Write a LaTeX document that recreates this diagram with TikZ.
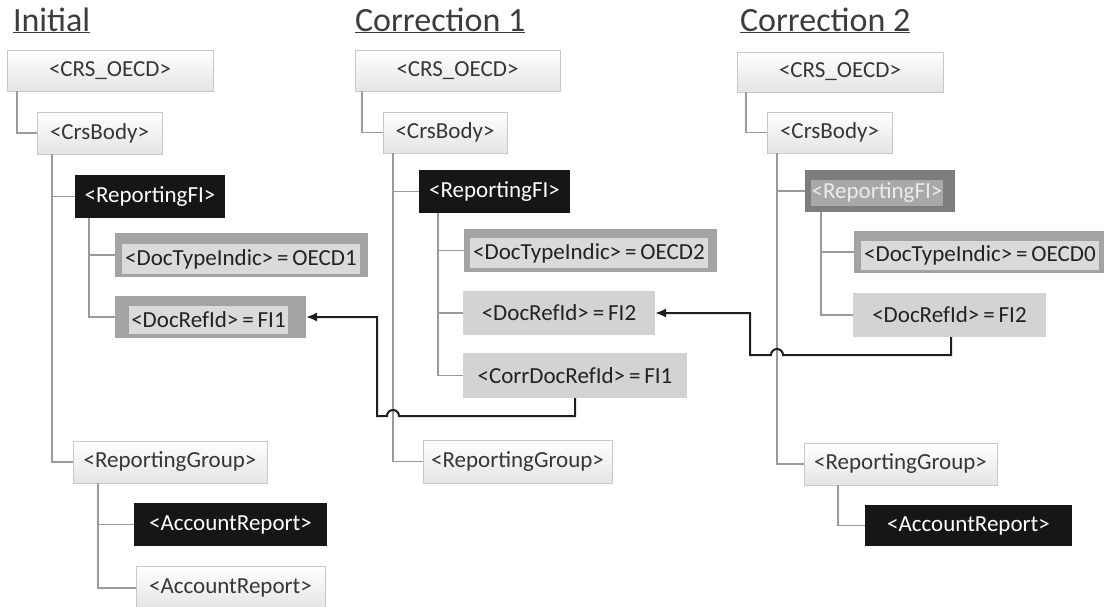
\documentclass[tikz,border=0pt]{standalone}
\usepackage{fontspec}
\setmainfont{Carlito}
\usetikzlibrary{calc,arrows.meta}
\definecolor{treeline}{HTML}{9A9A9A}
\definecolor{lbdraw}{HTML}{C8C8C8}
\definecolor{lbbot}{HTML}{E4E4E4}
\definecolor{lbtext}{HTML}{363636}
\definecolor{blk}{HTML}{161616}
\definecolor{dtout}{HTML}{A3A3A3}
\definecolor{dtin}{HTML}{DADADA}
\definecolor{plainfill}{HTML}{D3D3D3}
\definecolor{darktext}{HTML}{222222}
\definecolor{gfiout}{HTML}{7D7D7D}
\definecolor{gfiin}{HTML}{A8A8A8}
\definecolor{titlec}{HTML}{3C3C3C}
\definecolor{linkc}{HTML}{1E1E1E}
\newcommand\boxat[7]{\node[#1, minimum width={(#5-#3)*1pt}, minimum height={(#6-#4)*1pt}] (#2) at ({(#3+#5)/2},{(#4+#6)/2}) {#7};}
\newcommand\eq{\hspace{0.17em}=\hspace{0.17em}}
\begin{document}
\begin{tikzpicture}[x=1pt,y=-1pt,
  every node/.style={inner sep=0pt, outer sep=0pt, font=\fontsize{23}{27}\selectfont},
  lightbox/.style={draw=lbdraw, line width=0.8pt, top color=white, bottom color=lbbot, text=lbtext},
  blackbox/.style={fill=blk, text=white},
  dtouter/.style={fill=dtout},
  dtinner/.style={fill=dtin, text=darktext},
  plainbox/.style={fill=plainfill, text=darktext},
  gfouter/.style={fill=gfiout},
  gfinner/.style={fill=gfiin, text=white!92!black},
  titlenode/.style={font=\fontsize{34}{38}\selectfont, text=titlec, anchor=base west},
  tree/.style={draw=treeline, line width=1.7pt},
  link/.style={draw=linkc, line width=2pt},
  linkarrow/.style={link, -{Latex[length=11pt,width=9pt]}}
]
\useasboundingbox (0,0) rectangle (1104,606);

% ---------- titles ----------
\node[titlenode] (tA) at (13,31) {\underline{Initial}};
\node[titlenode] (tB) at (355,31) {\underline{Correction 1}};
\node[titlenode] (tC) at (740,31) {\underline{Correction 2}};

% ---------- Initial ----------
\boxat{lightbox}{crsA}{7}{50}{213}{91}{<CRS\_OECD>}
\boxat{lightbox}{bodyA}{37}{112}{162}{154}{<CrsBody>}
\boxat{blackbox}{rfiA}{75}{175}{225}{218}{<ReportingFI>}
\boxat{dtouter}{dtA}{115}{233}{368}{277}{}
\boxat{dtinner}{dtAt}{122}{244}{360}{274}{<DocTypeIndic>\eq OECD1}
\boxat{dtouter}{drA}{115}{296}{306}{338}{}
\boxat{dtinner}{drAt}{129}{306}{288}{334}{<DocRefId>\eq FI1}
\boxat{lightbox}{rgA}{73}{441}{267}{483}{<ReportingGroup>}
\boxat{blackbox}{arA1}{134}{503}{327}{546}{<AccountReport>}
\boxat{lightbox}{arA2}{136}{566}{325}{610}{<AccountReport>}

\draw[tree] ($(crsA.south west)+(10,0)$) |- (bodyA.west);
\draw[tree] ($(bodyA.south west)+(15,0)$) |- (rgA.west);
\draw[tree] ($(bodyA.south west)+(15,0)$) |- (rfiA.west);
\draw[tree] ($(rfiA.south west)+(14,0)$) |- (dtA.west);
\draw[tree] ($(rfiA.south west)+(14,0)$) |- (drA.west);
\draw[tree] ($(rgA.south west)+(25,0)$) |- (arA1.west);
\draw[tree] ($(rgA.south west)+(25,0)$) |- (arA2.west);

% ---------- Correction 1 ----------
\boxat{lightbox}{crsB}{355}{50}{560}{91}{<CRS\_OECD>}
\boxat{lightbox}{bodyB}{383}{112}{507}{153}{<CrsBody>}
\boxat{blackbox}{rfiB}{419}{170}{570}{213}{<ReportingFI>}
\boxat{dtouter}{dtB}{464}{229}{717}{272}{}
\boxat{dtinner}{dtBt}{470}{238}{708}{268}{<DocTypeIndic>\eq OECD2}
\boxat{plainbox}{drB}{463}{291}{655}{335}{<DocRefId>\eq FI2}
\boxat{plainbox}{cdrB}{463}{353}{687}{398}{<CorrDocRefId>\eq FI1}
\boxat{lightbox}{rgB}{423}{440}{612}{483}{<ReportingGroup>}

\draw[tree] ($(crsB.south west)+(7,0)$) |- (bodyB.west);
\draw[tree] ($(bodyB.south west)+(10,0)$) |- (rgB.west);
\draw[tree] ($(bodyB.south west)+(10,0)$) |- (rfiB.west);
\draw[tree] ($(rfiB.south west)+(19,0)$) |- (dtB.west);
\draw[tree] ($(rfiB.south west)+(19,0)$) |- (drB.west);
\draw[tree] ($(rfiB.south west)+(19,0)$) |- (cdrB.west);

% ---------- Correction 2 ----------
\boxat{lightbox}{crsC}{737}{52}{943}{92}{<CRS\_OECD>}
\boxat{lightbox}{bodyC}{767}{112}{892}{153}{<CrsBody>}
\boxat{gfouter}{rfiC}{805}{170}{955}{212}{}
\boxat{gfinner}{rfiCt}{811}{180}{943}{206}{<ReportingFI>}
\boxat{dtouter}{dtC}{854}{231}{1110}{273}{}
\boxat{dtinner}{dtCt}{861}{241}{1099}{270}{<DocTypeIndic>\eq OECD0}
\boxat{plainbox}{drC}{853}{293}{1046}{337}{<DocRefId>\eq FI2}
\boxat{lightbox}{rgC}{804}{443}{997}{485}{<ReportingGroup>}
\boxat{blackbox}{arC}{865}{505}{1072}{546}{<AccountReport>}

\draw[tree] ($(crsC.south west)+(9,0)$) |- (bodyC.west);
\draw[tree] ($(bodyC.south west)+(10,0)$) |- (rgC.west);
\draw[tree] ($(bodyC.south west)+(10,0)$) |- (rfiC.west);
\draw[tree] ($(rfiC.south west)+(16,0)$) |- (dtC.west);
\draw[tree] ($(rfiC.south west)+(16,0)$) |- (drC.west);
\draw[tree] ($(rgC.south west)+(34,0)$) |- (arC.west);

% ---------- reference links ----------
\coordinate (kB1) at (575,416);
\coordinate (kBhop) at (399,416);
\coordinate (kB2) at (377,416);
\draw[linkarrow] (cdrB.south -| kB1) -- (kB1) -- (kBhop)
  arc[start angle=0, end angle=180, radius=6pt] -- (kB2) -- (kB2 |- drA.east) -- (drA.east);

\coordinate (kC1) at (951,355);
\coordinate (kChop) at (783,355);
\coordinate (kC2) at (750,355);
\draw[linkarrow] (drC.south -| kC1) -- (kC1) -- (kChop)
  arc[start angle=0, end angle=180, radius=6pt] -- (kC2) -- (kC2 |- drB.east) -- (drB.east);
\end{tikzpicture}
\end{document}
